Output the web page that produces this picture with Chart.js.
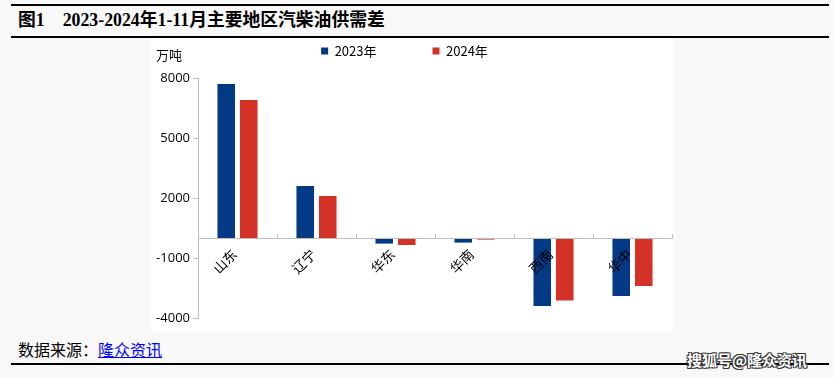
<!DOCTYPE html>
<html><head><meta charset="utf-8">
<script src="https://cdn.jsdelivr.net/npm/chart.js@4"></script>
<style>
html,body{margin:0;padding:0;}
body{width:833px;height:378px;background:#f8f8f8;position:relative;overflow:hidden;font-family:"Noto Sans CJK SC","Noto Sans",sans-serif;}
.line{position:absolute;left:11px;width:818px;height:2px;background:#000;}
#title{position:absolute;left:18px;top:8px;font-family:"Liberation Serif","Noto Sans CJK SC",serif;font-weight:bold;font-size:17.8px;line-height:24px;color:#000;white-space:pre;}
#title .gap{display:inline-block;width:18px;}
#panel{position:absolute;left:151px;top:38px;width:522px;height:295px;background:#fff;}
#unit{position:absolute;left:156px;top:45px;font-size:13px;color:#000;}
#src{position:absolute;left:18px;top:338px;font-size:16px;line-height:22px;color:#000;}
#src a{color:#0000ff;text-decoration:underline;}
#wm{position:absolute;left:687px;top:349px;font-size:15px;font-weight:bold;color:#fff;
text-shadow:1px 1px 0 #333,-1px -1px 0 #333,1px -1px 0 #333,-1px 1px 0 #333;}
</style></head>
<body>
<div class="line" style="top:4px"></div>
<div id="title">图1<span class="gap"></span>2023-2024年1-11月主要地区汽柴油供需差</div>
<div class="line" style="top:36px;height:1.5px"></div>
<div id="panel"><canvas id="c" width="522" height="295"></canvas></div>
<div id="unit">万吨</div>
<div class="line" style="top:363px"></div>
<div id="src">数据来源：<a>隆众资讯</a></div>
<div id="wm">搜狐号@隆众资讯</div>
<script>
const categories = ["山东","辽宁","华东","华南","西南","华中"];
const series2023 = [7700, 2600, -280, -230, -3400, -2900];
const series2024 = [6900, 2100, -350, -80, -3130, -2400];
const yTicks = [-4000, -1000, 2000, 5000, 8000];
const seriesNames = ["2023年","2024年"];

const LEG_PAD = 56;
const TOP_PAD = -49.5;
const legendGap = {
  id: 'legendGap',
  beforeInit(chart) {
    const lg = chart.legend;
    if (!lg) return;
    const fit = lg.fit;
    lg.fit = function () {
      fit.call(this);
      this.height += 10.5;
      if (this.lineWidths && this.lineWidths.length) this.lineWidths[0] += 14;
    };
  }
};

const ctx = document.getElementById('c').getContext('2d');
new Chart(ctx, {
  type: 'bar',
  data: {
    labels: categories,
    datasets: [
      {label: seriesNames[0], data: series2023, backgroundColor: '#043a85', categoryPercentage: 0.57, barPercentage: 0.78},
      {label: seriesNames[1], data: series2024, backgroundColor: '#d43226', categoryPercentage: 0.57, barPercentage: 0.78}
    ]
  },
  plugins: [legendGap],
  options: {
    responsive: false,
    animation: false,
    layout: {padding: {left: 0, right: 1, top: TOP_PAD, bottom: 15}},
    plugins: {
      tooltip: {enabled: false},
      legend: {
        position: 'top',
        labels: {boxWidth: 7, boxHeight: 7, padding: LEG_PAD, color: '#000', font: {family: '"Noto Sans CJK SC","Noto Sans",sans-serif', size: 13}}
      }
    },
    scales: {
      y: {
        min: yTicks[0], max: yTicks[yTicks.length - 1],
        afterBuildTicks: (s) => { s.ticks = yTicks.map(v => ({value: v})); },
        afterFit: (s) => { s.width = 47; },
        grid: {display: true, drawOnChartArea: false, drawTicks: true, tickLength: 5, color: '#bfbfbf'},
        border: {color: '#bfbfbf'},
        ticks: {color: '#000', padding: 3, callback: (v) => String(v), font: {family: '"Open Sans","Noto Sans",sans-serif', size: 13}}
      },
      x: {
        position: {y: 0},
        offset: true,
        grid: {display: true, drawOnChartArea: false, drawTicks: true, offset: true, tickLength: -5, color: '#bfbfbf'},
        border: {color: '#bfbfbf', z: 1},
        ticks: {z: 1, color: '#000', padding: 13, labelOffset: -3, minRotation: 45, maxRotation: 45, font: {family: '"Noto Sans CJK SC",sans-serif', size: 13.5}}
      }
    }
  }
});
</script>
</body></html>
